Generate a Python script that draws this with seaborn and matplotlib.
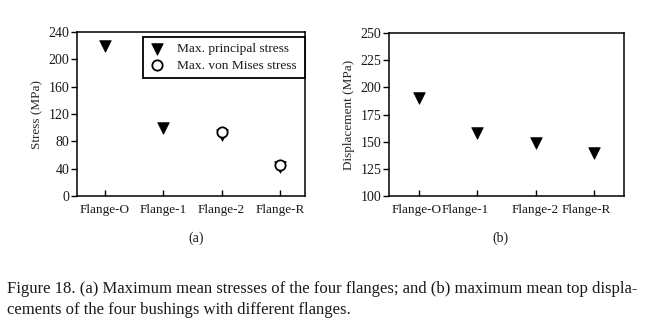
import numpy as np
import pandas as pd
import matplotlib
matplotlib.use("Agg")
import matplotlib.pyplot as plt
import matplotlib.transforms as mtransforms
import seaborn as sns

# ---- data ----
flanges = ["Flange-O", "Flange-1", "Flange-2", "Flange-R"]
principal_stress = [220, 99, 90, 43]
von_mises_stress = [np.nan, np.nan, 93, 46]
displacement = [190, 158, 149, 140]
stress_ticks = [0, 40, 80, 120, 160, 200, 240]
disp_ticks = [100, 125, 150, 175, 200, 225, 250]
caption_lines = [
    "Figure 18. (a) Maximum mean stresses of the four flanges; and (b) maximum mean top displa-",
    "cements of the four bushings with different flanges.",
]

sns.set_theme(style="white")
plt.rcParams["font.family"] = ["Liberation Serif", "DejaVu Serif"]
plt.rcParams["text.color"] = "#1a1a1a"

fig = plt.figure(figsize=(6.63, 3.35), dpi=100)
fig.patch.set_facecolor("white")

ax1 = fig.add_axes([77 / 663, 1 - 196 / 335, 228 / 663, 164 / 335])
ax2 = fig.add_axes([389 / 663, 1 - 196 / 335, 235 / 663, 163 / 335])

df_p = pd.DataFrame({"flange": flanges, "value": principal_stress})
df_v = pd.DataFrame({"flange": flanges, "value": von_mises_stress})
df_d = pd.DataFrame({"flange": flanges, "value": displacement})

sns.scatterplot(data=df_p, x="flange", y="value", marker="v", s=70,
                color="black", edgecolor="black", linewidth=0.5,
                label="Max. principal stress", ax=ax1, zorder=3)
sns.scatterplot(data=df_v.dropna(), x="flange", y="value", marker="o", s=55,
                facecolor="white", edgecolor="black", linewidth=1.3,
                label="Max. von Mises stress", ax=ax1, zorder=4)
sns.scatterplot(data=df_d, x="flange", y="value", marker="v", s=70,
                color="black", edgecolor="black", linewidth=0.5,
                ax=ax2, zorder=3)

for ax in (ax1, ax2):
    for sp in ax.spines.values():
        sp.set_visible(True)
        sp.set_color("black")
        sp.set_linewidth(1.1)
    ax.set_xlabel("")
    ax.set_xticks(range(len(flanges)))
    ax.set_xticklabels(flanges, fontsize=9.5)
    ax.tick_params(axis="x", direction="in", length=4, width=1, color="black",
                   pad=6, bottom=True, labelcolor="#1a1a1a")
    ax.tick_params(axis="y", direction="out", length=4, width=1, color="black",
                   pad=1.5, left=True, labelsize=10, labelcolor="#1a1a1a")
    ax.grid(False)
    ax.set_facecolor("white")

ax1.set_xlim(-0.48, 3.43)
ax1.set_ylim(0, 240)
ax1.set_yticks(stress_ticks)
ax1.set_ylabel("Stress (MPa)", fontsize=9.5, labelpad=4)

ax2.set_xlim(-0.52, 3.52)
ax2.set_ylim(100, 250)
ax2.set_yticks(disp_ticks)
ax2.set_ylabel("Displacement (MPa)", fontsize=9.5, labelpad=4)

# shift x labels in panel (b) as in the reference layout
shifts = [-3, -12, 0, -8]
for lab, dx in zip(ax2.get_xticklabels(), shifts):
    lab.set_transform(lab.get_transform() +
                      mtransforms.ScaledTranslation(dx / 100, 0, fig.dpi_scale_trans))

leg = ax1.legend(loc="upper left", bbox_to_anchor=(0.289, 0.732, 0.711, 0.238),
                 mode="expand", borderaxespad=0,
                 frameon=True, fancybox=False, framealpha=1, edgecolor="black",
                 fontsize=9.6, handletextpad=0.9, borderpad=0.45, labelspacing=0.3,
                 handlelength=1.2)
leg.get_frame().set_linewidth(1.3)

fig.text(196 / 663, 1 - 238 / 335, "(a)", ha="center", va="center", fontsize=10)
fig.text(500 / 663, 1 - 238 / 335, "(b)", ha="center", va="center", fontsize=10)

fig.text(7 / 663, 1 - 289 / 335, caption_lines[0], ha="left", va="center", fontsize=12)
fig.text(7 / 663, 1 - 310 / 335, caption_lines[1], ha="left", va="center", fontsize=12)

fig.savefig("out.png", dpi=100, facecolor="white")
